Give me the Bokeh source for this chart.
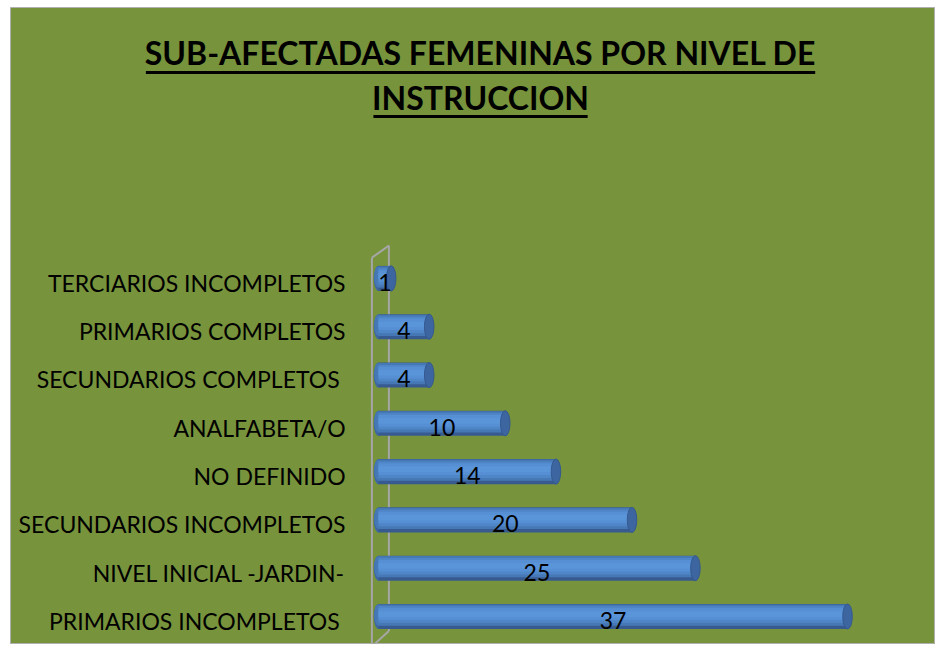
from bokeh.plotting import figure
from bokeh.models import Range1d
from bokeh.core.properties import value
from bokeh.embed import file_html
from bokeh.resources import INLINE

# ---- data (bottom to top) ----
categories = ["PRIMARIOS  INCOMPLETOS", "NIVEL INICIAL -JARDIN-", "SECUNDARIOS INCOMPLETOS",
              "NO DEFINIDO", "ANALFABETA/O", "SECUNDARIOS  COMPLETOS",
              "PRIMARIOS COMPLETOS", "TERCIARIOS INCOMPLETOS"]
values = [37, 25, 20, 14, 10, 4, 4, 1]
title_lines = ["SUB-AFECTADAS FEMENINAS POR NIVEL DE", "INSTRUCCION"]

GREEN = "#77933C"
FONT = value("Lato")

idx = list(range(len(categories)))
n = len(categories)

p = figure(width=925, height=637,
           x_range=Range1d(-29.03, 43.94), y_range=Range1d(-0.58, 12.61),
           x_axis_location=None, y_axis_location=None,
           output_backend="svg", toolbar_location=None, min_border=0)
p.margin = (7, 0, 0, 10)
p.grid.visible = False
p.background_fill_color = GREEN
p.border_fill_color = GREEN
p.outline_line_color = "#B0B0B0"
p.outline_line_width = 1

# ---- 3D wall lines ----
wall_col = "#A6A6A6"
front_x, back_x = -0.52, 0.82
top_front, top_back = n - 0.57, n - 0.32
bot_front, bot_back = -0.62, -0.3
p.segment(x0=[front_x, back_x, front_x, front_x], y0=[bot_front, bot_back, top_front, bot_front],
          x1=[front_x, back_x, back_x, back_x], y1=[top_front, top_back, top_back, bot_back],
          line_color=wall_col, line_width=2)

# ---- cylinder bars ----
H = 0.52
cap_w = 0.75
p.ellipse(x=[0] * n, y=idx, width=cap_w, height=H, fill_color="#3E67A2", line_color=None)
p.hbar(y=idx, left=0, right=values, height=H, fill_color="#375B90", line_color=None)
p.ellipse(x=[0] * n, y=[i + 0.03 for i in idx], width=cap_w * 0.9, height=0.44, fill_color="#4778B6", line_color=None)
p.hbar(y=[i + 0.03 for i in idx], left=0, right=values, height=0.44, fill_color="#4778B6", line_color=None)
p.hbar(y=[i + 0.04 for i in idx], left=0, right=values, height=0.34, fill_color="#4F86C8", line_color=None)
p.hbar(y=[i + 0.05 for i in idx], left=0, right=values, height=0.24, fill_color="#568FD3", line_color=None)
p.hbar(y=[i + 0.05 for i in idx], left=0, right=values, height=0.12, fill_color="#5B95D9", line_color=None)
p.ellipse(x=values, y=idx, width=cap_w, height=H, fill_color="#3D659F", line_color="#34598F", line_width=1)

# ---- value labels ----
p.text(x=[v / 2 for v in values], y=[i - 0.08 for i in idx], text=[str(v) for v in values],
       text_font=FONT, text_font_size="23px", text_color="#000000",
       text_align="center", text_baseline="middle")

# ---- category labels ----
p.text(x=[-2.6] * n, y=[i - 0.09 for i in idx], text=categories,
       text_font=FONT, text_font_size="23px", text_color="#000000",
       text_align="right", text_baseline="middle")

# ---- title with underline ----
tx = 8.05
p.text(x=[tx, tx], y=[11.68, 10.75], text=title_lines,
       text_font=FONT, text_font_style="bold", text_font_size="32px", text_color="#000000",
       text_align="center", text_baseline="middle")
p.segment(x0=[tx - 26.4, tx - 8.45], y0=[11.265, 10.354], x1=[tx + 26.4, tx + 8.45], y1=[11.265, 10.354],
          line_color="#000000", line_width=3)

open("out.html", "w").write(file_html(p, INLINE))
